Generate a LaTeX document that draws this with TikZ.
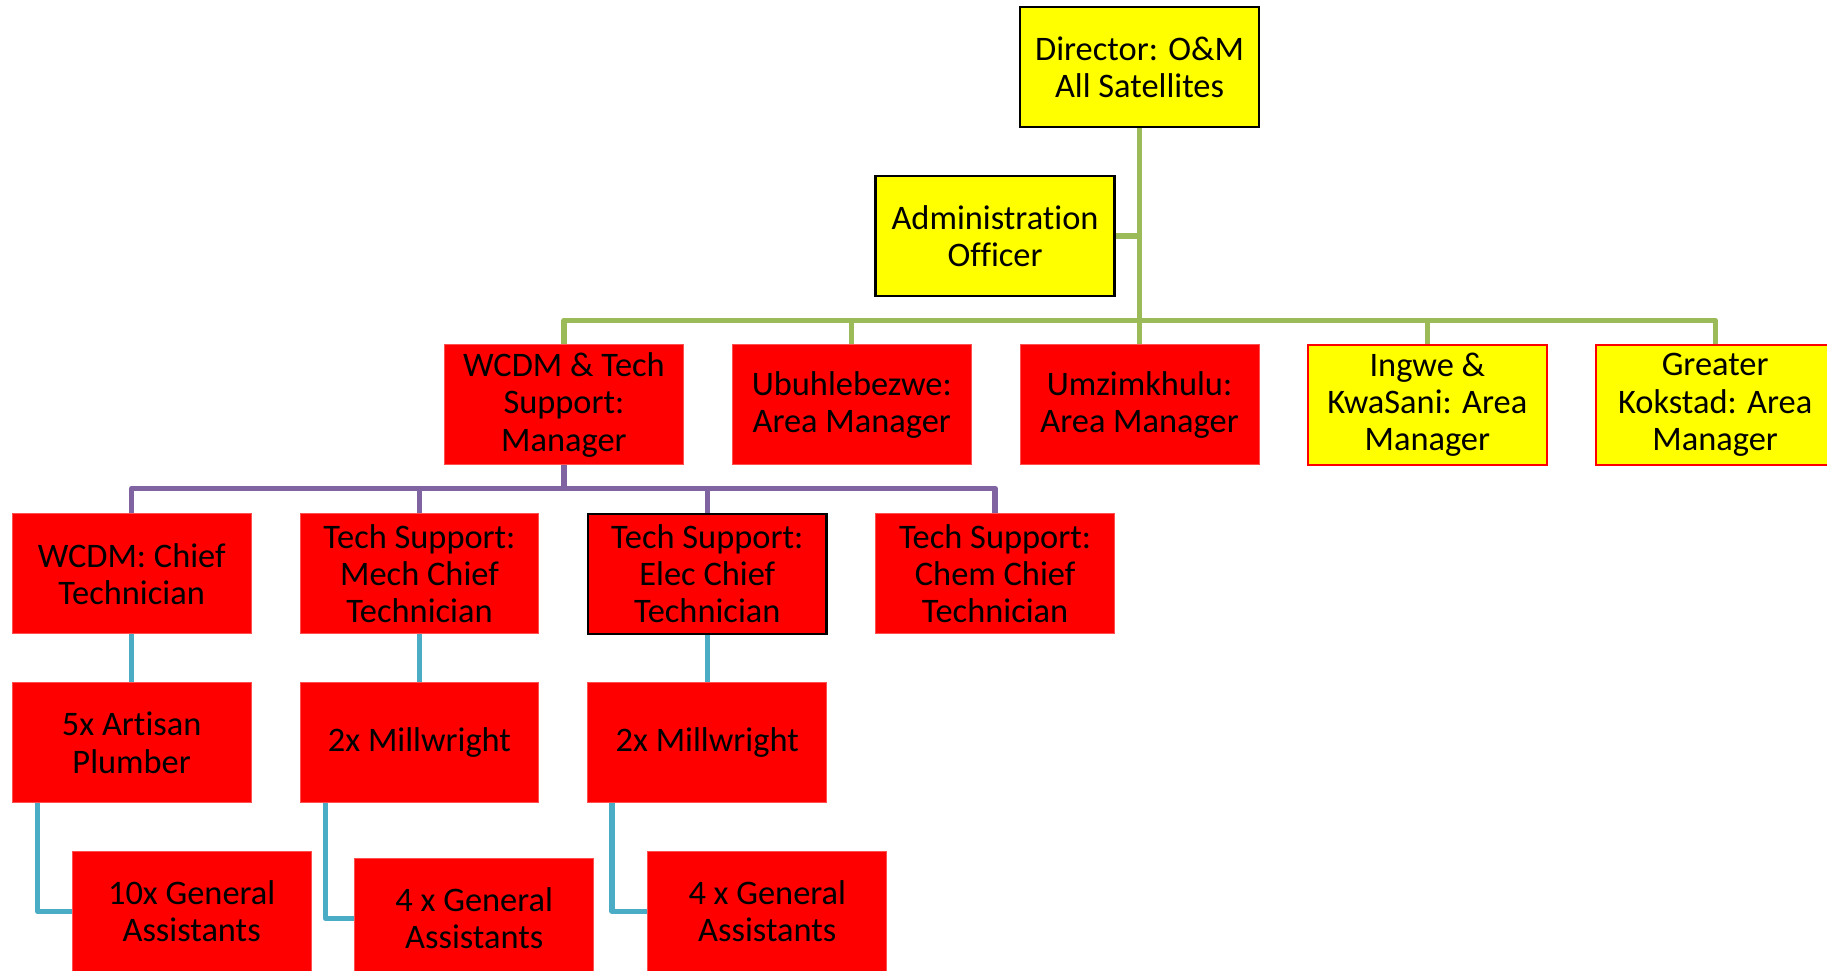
\documentclass[tikz,border=0pt]{standalone}
\usepackage{fontspec}
\setmainfont{Carlito}[Ligatures=NoCommon]
\usetikzlibrary{calc}
\definecolor{boxred}{HTML}{FF0000}
\definecolor{boxyel}{HTML}{FFFF00}
\definecolor{lgreen}{HTML}{9BBB59}
\definecolor{lpurple}{HTML}{8064A2}
\definecolor{lblue}{HTML}{4BACC6}
\definecolor{rededge}{HTML}{FF5050}
\tikzset{
  box/.style={rectangle, minimum width=119.4pt, minimum height=60pt, inner sep=0pt, align=center,
    font=\fontsize{17.2pt}{18.6pt}\selectfont},
  redbox/.style={box, fill=boxred, draw=rededge, line width=0.4pt},
  yelblack/.style={box, fill=boxyel, draw=black, line width=1.2pt},
  yelred/.style={box, fill=boxyel, draw=boxred, line width=1.2pt},
  redblack/.style={box, fill=boxred, draw=black, line width=1.2pt},
  gline/.style={draw=lgreen, line width=2.6pt, line join=round},
  pline/.style={draw=lpurple, line width=2.6pt, line join=round},
  bline/.style={draw=lblue, line width=2.6pt, line join=round},
}
\begin{document}
\begin{tikzpicture}[x=0.5826pt, y=-0.5826pt]
\useasboundingbox (0,0) rectangle (1568,833.3);
\fill[white] (0,0) rectangle (1568,833.3);
% level 0/1
\node[yelblack] (dir) at (978,57.5) {Director: O\&M\\All Satellites};
\node[yelblack] (adm) at (854,202.5) {Administration\\Officer};
% level 2
\node[redbox] (mgr) at (484,347.5) {WCDM \& Tech\\Support:\\Manager};
\node[redbox] (ubu) at (731,347.5) {Ubuhlebezwe:\\Area Manager};
\node[redbox] (umz) at (978,347.5) {Umzimkhulu:\\Area Manager};
\node[yelred] (ing) at (1225,347.5) {Ingwe \&\\KwaSani: Area\\Manager};
\node[yelred] (kok) at (1472,347.5) {Greater\\Kokstad: Area\\Manager};
% level 3
\node[redbox] (wct) at (113,492.5) {WCDM: Chief\\Technician};
\node[redbox] (mech) at (360,492.5) {Tech Support:\\Mech Chief\\Technician};
\node[redblack] (elec) at (607,492.5) {Tech Support:\\Elec Chief\\Technician};
\node[redbox] (chem) at (854,492.5) {Tech Support:\\Chem Chief\\Technician};
% level 4
\node[redbox] (art) at (113,637.5) {5x Artisan\\Plumber};
\node[redbox] (mw1) at (360,637.5) {2x Millwright};
\node[redbox] (mw2) at (607,637.5) {2x Millwright};
% level 5
\node[redbox] (ga1) at (164.5,782) {10x General\\Assistants};
\node[redbox] (ga2) at (407,788) {4 x General\\Assistants};
\node[redbox] (ga3) at (658.5,782) {4 x General\\Assistants};
% green connectors
\coordinate (busG) at (978,275);
\draw[gline] (dir.south) -- (umz.north);
\draw[gline] (adm.east) -- (adm.east -| dir.south);
\draw[gline] (mgr.north) -- (mgr.north |- busG) -- (kok.north |- busG) -- (kok.north);
\draw[gline] (ubu.north) -- (ubu.north |- busG);
\draw[gline] (ing.north) -- (ing.north |- busG);
% purple connectors
\coordinate (busP) at (484,419);
\draw[pline] (mgr.south) -- (busP);
\draw[pline] (wct.north) |- (busP) -| (chem.north);
\draw[pline] (mech.north) -- (mech.north |- busP);
\draw[pline] (elec.north) -- (elec.north |- busP);
% blue connectors
\draw[bline] (wct.south) -- (art.north);
\draw[bline] (mech.south) -- (mw1.north);
\draw[bline] (elec.south) -- (mw2.north);
\draw[bline] ($(art.south west)+(22,0)$) |- (ga1.west);
\draw[bline] ($(mw1.south west)+(22,0)$) |- (ga2.west);
\draw[bline] ($(mw2.south west)+(21,0)$) |- (ga3.west);
\end{tikzpicture}
\end{document}
